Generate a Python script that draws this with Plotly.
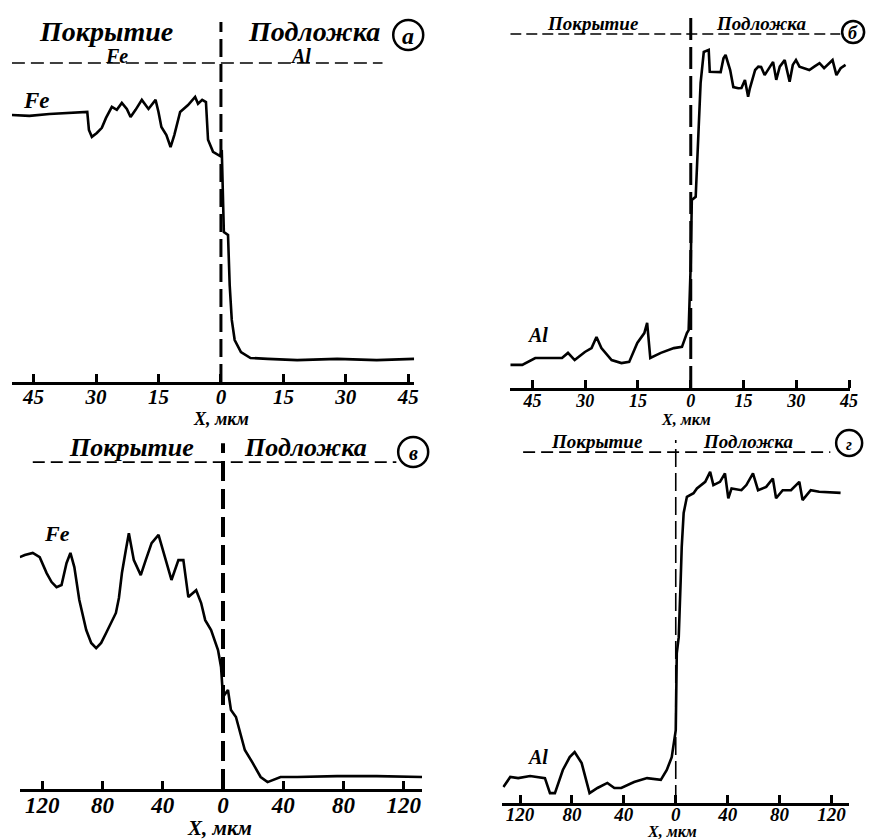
import plotly.graph_objects as go

# ---------------- data ----------------
# Panel а: Fe profile, X in мкм (negative = coating side), intensity in arbitrary units
a_x = [-50.2, -46, -41.2, -34, -32.1, -31.7, -31, -29.8, -28.6, -27.6, -26.2, -25, -23.8, -22.6,
       -21.7, -20.5, -19, -17.4, -15.7, -15, -14.3, -13.1, -12.1, -11.2, -9.8, -7.9, -6.2, -5.5,
       -4.5, -3.6, -3.1, -1.9, -0.2, 0.2, 0.5, 0.7, 1.7, 2.1, 2.6, 3.3, 4.8, 7.1, 11.2, 18.3,
       27.9, 37.4, 46.4]
a_fe = [89, 88.7, 89.3, 89.7, 90, 84, 81.7, 83, 84.7, 88, 91.7, 90.7, 93, 91,
        88.3, 90.7, 94, 91, 94, 90, 85, 82.3, 78.3, 82.3, 90, 92.3, 95, 92.7,
        94, 93.3, 80.7, 76.7, 75.3, 77.3, 60.7, 50, 49, 32.3, 20.7, 14, 10, 8, 7.7, 7.3,
        7.7, 7.3, 7.7]

# Panel б: Al profile
b_x = [-51.3, -47.9, -44.2, -40, -36.6, -34.9, -33, -30.1, -28.2, -26.8, -25.4, -22.5, -19.7,
       -17.5, -15.2, -13.2, -12.4, -11.5, -8.5, -4.8, -2.5, -1.1, -0.6, 0, 0.3, 1.4, 1.7, 2.3,
       2.8, 3.7, 5.1, 5.4, 8.5, 9.3, 9.9, 11.2, 12.1, 13.5, 14.4, 15.4, 16.3, 16.8, 18.3, 19.2,
       20, 21, 22.9, 23.4, 24.3, 25.3, 26.7, 28.1, 29, 29.9, 30.9, 33.7, 35.1, 36.6, 37.9, 40.3,
       41.4, 42.6, 44]
b_al = [7.7, 7.7, 10, 10, 10, 11.7, 9.3, 12, 13.3, 17, 13.3, 9.3, 8.3,
        8.7, 15, 18.3, 21.7, 10, 11.7, 13.3, 13.7, 18.3, 19.3, 41.7, 62.7, 63.7, 72.7, 87,
        101.7, 112, 112.7, 105.4, 105.3, 109.9, 111, 106, 100.3, 99.9, 100, 102.7, 97.1, 99.9, 106, 107.1,
        107, 104.3, 107.7, 108.7, 102.7, 107.1, 109.3, 102.1, 107.7, 109.3, 107.1, 106, 107.1, 108.3, 106.6, 109.3,
        104.3, 106.6, 107.7]

# Panel в: Fe profile
c_x = [-134.9, -131.6, -126.3, -121.7, -117.1, -113.8, -110.5, -107.2, -103.9, -101.3, -98.7,
       -95.4, -90.8, -87.5, -84.2, -80.9, -77.6, -71.1, -69.1, -67.1, -64.5, -62.5, -59.2, -54.6,
       -51.3, -47.4, -42.8, -39.5, -34.2, -29.6, -26.3, -23, -17.8, -14.5, -11.8, -7.9, -3.3,
       -1.3, 0, 3.3, 5.3, 8.6, 11.8, 14.5, 19.7, 25, 29.6, 38.2, 49.3, 75.7, 102, 132.2]
c_fe = [77.3, 78, 78.7, 77.3, 72, 69, 67.3, 68, 75.3, 78.7, 74,
        63, 53, 48.7, 47, 48.7, 52, 58.7, 63.7, 72, 79.7, 85.3, 76.3, 71.3,
        76.3, 82, 84.7, 78.7, 69.7, 76.3, 76.3, 64, 66.3, 62, 56.3, 53, 46.3,
        40.7, 30.7, 33, 26.3, 24, 18, 13, 8.7, 4, 2.3, 4, 4, 4.3, 4.3, 4]

# Panel г: Al profile
d_x = [-132.8, -127.5, -121.4, -112.2, -100.8, -96.9, -93.1, -87, -81.7, -77.9, -72.5, -66.4,
       -60.3, -52.7, -47.3, -42, -32.1, -22.1, -11.5, -6.9, -3.1, 0, 0.8, 2.3, 3.8, 4.6, 6.1,
       8.6, 13.7, 16.3, 22.7, 26.5, 29, 34.1, 37.9, 40.5, 43, 50.6, 54.4, 59.5, 63.4, 69.7,
       74.8, 77.3, 82.4, 88.8, 95.2, 97.7, 104, 110.5, 127]
d_al = [5.3, 8.7, 8.3, 9, 8.3, 3.3, 3.3, 11, 15.3, 17, 13.3, 3.3,
        5, 6.7, 5, 5, 7, 8.3, 7.7, 11, 15.3, 24.3, 50, 55.3, 74.3, 85.3, 96.7,
        102.1, 103.3, 104.9, 107.1, 110.4, 106, 107.1, 109.9, 101.6, 104.9, 104.3, 106, 109.9, 104.3, 105.4,
        108.2, 101.6, 104.3, 104.3, 107.1, 101, 104.3, 103.8, 103.4]

tick_vals_45 = [-45, -30, -15, 0, 15, 30, 45]
tick_text_45 = ["45", "30", "15", "0", "15", "30", "45"]
tick_vals_120 = [-120, -80, -40, 0, 40, 80, 120]
tick_text_120 = ["120", "80", "40", "0", "40", "80", "120"]

W, H = 873, 840
SERIF = "Liberation Serif"


def px_x(p):
    return p / W


def px_y(p):
    return 1 - p / H


fig = go.Figure()

# panels: (axis suffix, x, y, x-range, y-range, x-domain px, y-domain px, ticks, tick size, standoff)
panels = [
    ("", a_x, a_fe, [-50.2, 46.4], [0, 122.3], (12, 418), (382, 15), (tick_vals_45, tick_text_45), 21, -6),
    ("2", b_x, b_al, [-51.3, 45.3], [0, 126], (515, 858), (388, 10), (tick_vals_45, tick_text_45), 18, -6),
    ("3", c_x, c_fe, [-134.9, 132.2], [0, 119.7], (20, 426), (789, 430), (tick_vals_120, tick_text_120), 23, -7),
    ("4", d_x, d_al, [-133.6, 133.6], [0, 122.7], (507, 857), (803, 435), (tick_vals_120, tick_text_120), 19, -8),
]

layout_axes = {}
for suf, xs, ys, xr, yr, xd, yd, ticks, tsize, stand in panels:
    fig.add_trace(go.Scatter(x=xs, y=ys, mode="lines",
                             line=dict(color="black", width=2.6),
                             xaxis="x" + suf, yaxis="y" + suf, showlegend=False,
                             hoverinfo="skip"))
    layout_axes["xaxis" + suf] = dict(
        domain=[px_x(xd[0]), px_x(xd[1])], range=xr, anchor="y" + suf,
        showline=True, linecolor="black", linewidth=3,
        ticks="inside", ticklen=8, tickwidth=2.5, tickcolor="black",
        tickvals=ticks[0], ticktext=ticks[1], ticklabelstandoff=stand,
        tickfont=dict(family=SERIF, size=tsize, color="black", weight="bold", style="italic"),
        showgrid=False, zeroline=False, fixedrange=True)
    layout_axes["yaxis" + suf] = dict(
        domain=[px_y(yd[0]), px_y(yd[1])], range=yr, anchor="x" + suf,
        visible=False, showgrid=False, zeroline=False, fixedrange=True)

fig.update_layout(**layout_axes)

# boundary / header dashed lines
shapes = []
# (xref, yref, vertical top, vline width, vline dash, hline x0, hline x1, hline y, hline dash)
guides = [
    ("x", "y", 120, 3, "18px,7px", -50.2, 38.8, 106.3, "13px,6px"),
    ("x2", "y2", 123.7, 3, "22px,7px", -51.3, 42.5, 118, "11px,5px"),
    ("x3", "y3", 115.3, 4, "20px,8px", -126.3, 115.1, 109, "12px,6px"),
    ("x4", "y4", 121, 1.6, "18px,6px", -117.6, 119.1, 117, "12px,6px"),
]
for xr_, yr_, vtop, vw, vd, h0, h1, hy, hd in guides:
    shapes.append(dict(type="line", xref=xr_, yref=yr_, x0=0, x1=0, y0=0, y1=vtop,
                       line=dict(color="black", width=vw, dash=vd)))
    shapes.append(dict(type="line", xref=xr_, yref=yr_, x0=h0, x1=h1, y0=hy, y1=hy,
                       line=dict(color="black", width=1.6, dash=hd)))

# circled panel letters: (px x, px y, radius, letter, size)
circles = [(412, 35, 15, "а", 24), (861, 32, 11, "б", 18), (417, 452, 15, "в", 20), (857, 443, 13, "г", 16)]
annotations = []
for cx, cy, r, letter, sz in circles:
    shapes.append(dict(type="circle", xref="paper", yref="paper",
                       xsizemode="pixel", ysizemode="pixel",
                       xanchor=px_x(cx), yanchor=px_y(cy), x0=-r, x1=r, y0=-r, y1=r,
                       line=dict(color="black", width=2.5), fillcolor="white"))
    annotations.append(dict(text=letter, xref="paper", yref="paper", x=px_x(cx), y=px_y(cy + 1),
                            showarrow=False, xanchor="center", yanchor="middle",
                            font=dict(family=SERIF, size=sz, color="black", weight="bold", style="italic")))

# texts: (text, xref, x data, px y, size)
texts = [
    ("Покрытие", "x", -27.6, 32, 28),
    ("Подложка", "x", 22.4, 32, 28),
    ("Fe", "x", -25, 56, 20),
    ("Al", "x", 19, 56, 20),
    ("Fe", "x", -44.3, 100, 23),
    ("X, мкм", "x", 0, 419, 18),
    ("Покрытие", "x2", -27.9, 23, 19),
    ("Подложка", "x2", 20, 23, 19),
    ("Al", "x2", -43.7, 335, 20),
    ("X, мкм", "x2", -1.4, 419, 16),
    ("Покрытие", "x3", -60.5, 447, 26),
    ("Подложка", "x3", 54.6, 447, 26),
    ("Fe", "x3", -109.9, 533, 22),
    ("X, мкм", "x3", -2, 828, 21),
    ("Покрытие", "x4", -60.3, 441, 19),
    ("Подложка", "x4", 55.7, 441, 19),
    ("Al", "x4", -106.9, 757, 20),
    ("X, мкм", "x4", -3, 831, 16),
]
for t, xr_, xv, py, sz in texts:
    annotations.append(dict(text=t, xref=xr_, yref="paper", x=xv, y=px_y(py),
                            showarrow=False, xanchor="center", yanchor="middle",
                            font=dict(family=SERIF, size=sz, color="black", weight="bold", style="italic")))

fig.update_layout(width=W, height=H, margin=dict(l=0, r=0, t=0, b=0),
                  paper_bgcolor="white", plot_bgcolor="white",
                  shapes=shapes, annotations=annotations, showlegend=False)

fig.write_html("out.html", config={"displayModeBar": False},
               post_script="document.body.style.margin='0px';")
